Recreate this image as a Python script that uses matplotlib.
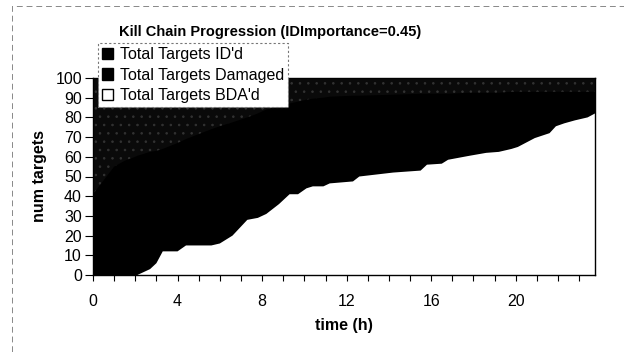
import matplotlib
matplotlib.use("Agg")
import matplotlib.pyplot as plt
from matplotlib.patches import Rectangle, Patch

plt.rcParams['font.family'] = ['Liberation Sans', 'DejaVu Sans']
plt.rcParams['hatch.linewidth'] = 0.6

# Kill chain progression: cumulative target counts over time (hours)
time_h = [0, 0.5, 1, 1.5, 2, 2.1, 2.4, 2.7, 3.0, 3.3, 4.0, 4.4, 5.6, 6.0,
          6.6, 7.3, 7.8, 8.2, 8.8, 9.3, 9.7, 10.1, 10.4, 10.9, 11.2, 12.3,
          12.6, 14.2, 15.5, 15.8, 16.5, 16.8, 17.8, 18.6, 19.2, 19.8, 20.1,
          20.9, 21.6, 21.9, 22.3, 22.8, 23.4, 23.75]

targets_idd = [100, 100, 100, 100, 100, 100, 100, 100, 100, 100, 100, 100,
               100, 100, 100, 100, 100, 100, 100, 100, 100, 100, 100, 100,
               100, 100, 100, 100, 100, 100, 100, 100, 100, 100, 100, 100,
               100, 100, 100, 100, 100, 100, 100, 100]

targets_damaged = [41, 48, 55, 58, 60, 60.5, 61.5, 62.5, 63, 64, 67, 69, 74,
                   75.5, 77.5, 80, 82, 84, 86, 87, 88, 89, 89.5, 90, 90.5,
                   91, 91, 91.5, 92, 92, 92, 92, 92.5, 92.5, 92.5, 93, 93,
                   93, 93, 93, 93, 93, 93, 93]

targets_bda = [0, 0, 0, 0, 0, 0, 1.5, 3, 6, 12, 12, 15, 15, 16, 20, 28, 29,
               31, 36, 41, 41, 44, 45, 45, 46.5, 47.5, 50, 52, 53, 56, 56.5,
               58.5, 60.5, 62, 62.5, 64, 65, 69.5, 72, 75.5, 77, 78.5, 80, 82]

series_labels = ["Total Targets ID'd", "Total Targets Damaged",
                 "Total Targets BDA'd"]
x_major = [0, 4, 8, 12, 16, 20]
y_ticks = [0, 10, 20, 30, 40, 50, 60, 70, 80, 90, 100]

W, H = 624, 352
fig = plt.figure(figsize=(W / 100, H / 100), dpi=100)
fig.patch.set_facecolor('white')

ax = fig.add_axes([93 / W, 1 - 275 / H, (595 - 93) / W, (275 - 78) / H])

ax.fill_between(time_h, 0, targets_idd, facecolor='#0a0a0a',
                edgecolor='#333333', hatch='..', linewidth=0, zorder=1)
ax.fill_between(time_h, 0, targets_damaged, facecolor='black',
                linewidth=0, zorder=2)
ax.fill_between(time_h, 0, targets_bda, facecolor='white',
                linewidth=0, zorder=3)

ax.set_xlim(0, 23.75)
ax.set_ylim(0, 100)
ax.set_xticks(x_major)
ax.set_xticks(range(0, 24), minor=True)
ax.set_yticks(y_ticks)
ax.tick_params(axis='both', which='both', direction='out', color='black',
               labelsize=11.5, width=0.8)
ax.tick_params(axis='x', which='major', length=4, pad=10)
ax.tick_params(axis='x', which='minor', length=4)
ax.tick_params(axis='y', length=6, pad=2)
for s in ax.spines.values():
    s.set_color('black')
    s.set_linewidth(1.0)
    s.set_zorder(5)

ax.set_xlabel('time (h)', fontsize=11.5, fontweight='bold', labelpad=6)
ax.set_ylabel('num targets', fontsize=11.5, fontweight='bold', labelpad=6)
fig.text(270 / W, 1 - 32 / H, 'Kill Chain Progression (IDImportance=0.45)',
         fontsize=10.5, fontweight='bold', ha='center', va='center')

handles = [Patch(facecolor='black', edgecolor='black'),
           Patch(facecolor='black', edgecolor='black'),
           Patch(facecolor='white', edgecolor='black')]
leg = fig.legend(handles, series_labels, loc='upper left',
                 bbox_to_anchor=(98 / W, 1 - 43 / H), fontsize=11.5,
                 frameon=True, fancybox=False, framealpha=1,
                 facecolor='white', borderpad=0.25,
                 labelspacing=0.35, handlelength=0.7, handleheight=0.7,
                 handletextpad=0.4, borderaxespad=0)
leg.get_frame().set_edgecolor('#777777')
leg.get_frame().set_linestyle((0, (2, 2)))
leg.get_frame().set_linewidth(0.8)
leg.set_zorder(10)

# dashed outline of the chart area
fig.patches.append(Rectangle((12 / W, -0.1), 1.2, 1 - 6 / H + 0.1,
                             transform=fig.transFigure, fill=False,
                             edgecolor='#888888', linewidth=0.7,
                             linestyle=(0, (6, 4)), zorder=0))

fig.savefig('out.png', dpi=100, facecolor='white')
